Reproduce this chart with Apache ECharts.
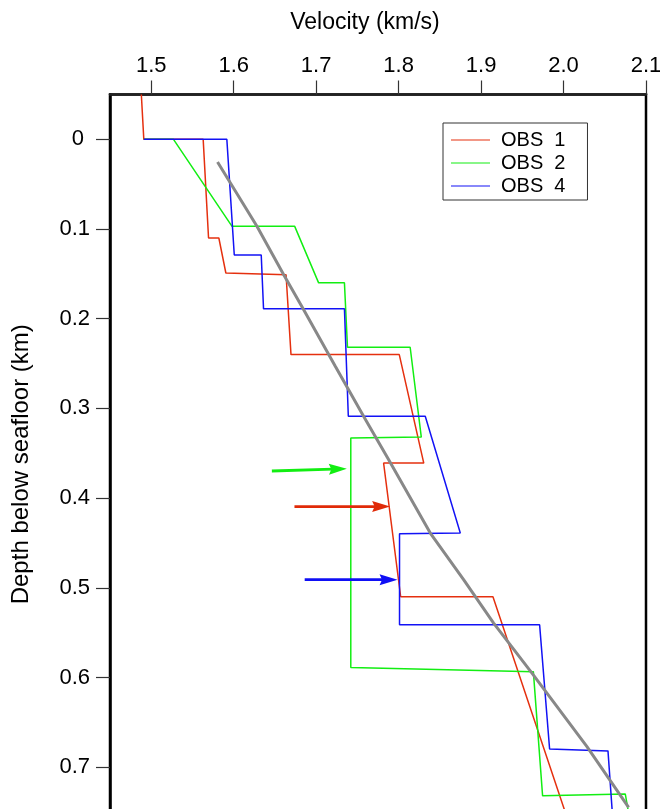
<!DOCTYPE html>
<html>
<head>
<meta charset="utf-8">
<script src="https://cdn.jsdelivr.net/npm/echarts@6/dist/echarts.min.js"></script>
<style>
  html, body { margin: 0; padding: 0; background: #fff; }
  #chart { width: 660px; height: 809px; }
</style>
</head>
<body>
<div id="chart"></div>
<script>
// Axis ticks
const velocityTicks = [1.5, 1.6, 1.7, 1.8, 1.9, 2.0, 2.1];
const depthTicks = [0, 0.1, 0.2, 0.3, 0.4, 0.5, 0.6, 0.7];

const seriesNames = ['OBS  1', 'OBS  2', 'OBS  4'];

// Velocity profiles: [velocity (km/s), depth below seafloor (km)]
const obs1 = [
  [1.488, -0.05], [1.491, 0.0], [1.563, 0.0], [1.5695, 0.110], [1.582, 0.110],
  [1.5905, 0.149], [1.6635, 0.151], [1.6695, 0.240], [1.8008, 0.240],
  [1.8305, 0.361], [1.7818, 0.361], [1.8025, 0.510], [1.9144, 0.510], [2.002, 0.750]
];
const obs2 = [
  [1.491, 0.0], [1.527, 0.0], [1.598, 0.097], [1.674, 0.097], [1.703, 0.160],
  [1.7343, 0.160], [1.738, 0.2318], [1.814, 0.2318], [1.8275, 0.332], [1.742, 0.333],
  [1.742, 0.589], [1.9634, 0.5935], [1.9746, 0.732], [2.0749, 0.730], [2.0787, 0.750]
];
const obs4 = [
  [1.491, 0.0], [1.5917, 0.0], [1.6007, 0.129], [1.6334, 0.129], [1.6362, 0.189],
  [1.7343, 0.189], [1.739, 0.3088], [1.8323, 0.3088], [1.8748, 0.439], [1.8011, 0.4397],
  [1.8011, 0.5413], [1.971, 0.5413], [1.9831, 0.6797], [2.0539, 0.6819], [2.0591, 0.750]
];
// Smoothed velocity-depth trend
const trend = [
  [1.5804, 0.0253], [1.6282, 0.0968], [1.6605, 0.1507], [1.6847, 0.1897],
  [1.7232, 0.2530], [1.7575, 0.3088], [1.7878, 0.3570], [1.8384, 0.4390],
  [1.8788, 0.4910], [1.9152, 0.5394], [1.9617, 0.5952], [2.0284, 0.6771],
  [2.0789, 0.7448]
];
// Arrows: [velocity start, depth start, velocity end, depth end]
const arrowObs2 = [1.6463, 0.3698, 1.7372, 0.3672];
const arrowObs1 = [1.6737, 0.4095, 1.7897, 0.4095];
const arrowObs4 = [1.6861, 0.4910, 1.7987, 0.4910];

const FONT = "'Liberation Sans', Arial, Helvetica, sans-serif";
const RED = '#e5300f';
const GREEN = '#12ee12';
const BLUE = '#1212f5';
const LEGEND_ICON = 'path://M0,0 L40,0 L40,1 L0,1 Z';

function renderArrow(params, api) {
  const a = api.coord([api.value(0), api.value(1)]);
  const b = api.coord([api.value(2), api.value(3)]);
  const dx = b[0] - a[0], dy = b[1] - a[1];
  const len = Math.hypot(dx, dy);
  const ux = dx / len, uy = dy / len;
  const headLen = 18, headHalf = 5.5, notch = 2.5;
  const bx = b[0] - ux * headLen, by = b[1] - uy * headLen;
  const color = api.visual('color');
  return {
    type: 'group',
    children: [
      {
        type: 'line',
        shape: { x1: a[0], y1: a[1], x2: bx + ux * 4, y2: by + uy * 4 },
        style: { stroke: color, lineWidth: 2.8 }
      },
      {
        type: 'polygon',
        shape: {
          points: [
            [b[0], b[1]],
            [bx - uy * headHalf, by + ux * headHalf],
            [bx + ux * notch, by + uy * notch],
            [bx + uy * headHalf, by - ux * headHalf]
          ]
        },
        style: { fill: color }
      }
    ]
  };
}

const chart = echarts.init(document.getElementById('chart'), null, { renderer: 'canvas' });

const profileLine = (name, data, color) => ({
  name: name,
  type: 'line',
  data: data,
  symbol: 'none',
  showSymbol: false,
  legendIcon: LEGEND_ICON,
  lineStyle: { color: color, width: 1.5 },
  itemStyle: { color: color },
  silent: true,
  z: 3
});

chart.setOption({
  animation: false,
  backgroundColor: '#ffffff',
  textStyle: { fontFamily: FONT },
  grid: {
    left: 110,
    right: 14,
    top: 94.5,
    bottom: -3,
    outerBoundsMode: 'none',
    containLabel: false,
    show: true,
    borderColor: '#000',
    borderWidth: 2.5,
    backgroundColor: 'transparent'
  },
  legend: {
    data: seriesNames.map(n => ({ name: n, icon: LEGEND_ICON })),
    orient: 'vertical',
    left: 443,
    top: 123,
    padding: [7, 22, 4, 8],
    itemGap: 3,
    itemWidth: 39,
    itemHeight: 1.3,
    borderColor: '#333',
    borderWidth: 1,
    backgroundColor: '#fff',
    textStyle: {
      fontFamily: FONT,
      fontSize: 20,
      color: '#000',
      lineHeight: 20,
      padding: [0, 0, 0, 6]
    },
    selectedMode: false
  },
  xAxis: {
    type: 'value',
    position: 'top',
    min: 1.45,
    max: 2.1,
    name: 'Velocity (km/s)',
    nameLocation: 'middle',
    nameGap: 60,
    nameTextStyle: {
      fontFamily: FONT,
      fontSize: 23,
      color: '#000',
      padding: [0, 26, 0, 0]
    },
    axisLine: { show: true, onZero: false, lineStyle: { color: '#222', width: 2.5 } },
    axisTick: {
      show: true,
      inside: false,
      length: 14,
      customValues: velocityTicks,
      lineStyle: { color: '#333', width: 1.2 }
    },
    axisLabel: {
      show: true,
      margin: 18,
      customValues: velocityTicks,
      fontFamily: FONT,
      fontSize: 22,
      color: '#000',
      formatter: v => v.toFixed(1)
    },
    splitLine: { show: false }
  },
  yAxis: {
    type: 'value',
    inverse: true,
    min: -0.05,
    max: 0.75,
    name: 'Depth below seafloor (km)',
    nameLocation: 'middle',
    nameGap: 77,
    nameTextStyle: {
      fontFamily: FONT,
      fontSize: 24,
      color: '#000',
      padding: [0, 22, 0, 0]
    },
    axisLine: { show: true, onZero: false, lineStyle: { color: '#000', width: 2.5 } },
    axisTick: {
      show: true,
      inside: false,
      length: 14,
      customValues: depthTicks,
      lineStyle: { color: '#333', width: 1.2 }
    },
    axisLabel: {
      show: true,
      margin: 20,
      customValues: depthTicks,
      fontFamily: FONT,
      fontSize: 22,
      color: '#000',
      formatter: v => (v === 0 ? '{zero|0}' : v.toFixed(1)),
      rich: {
        zero: { fontFamily: FONT, fontSize: 22, color: '#000', padding: [0, 6, 0, 0] }
      }
    },
    splitLine: { show: false }
  },
  series: [
    profileLine(seriesNames[0], obs1, RED),
    profileLine(seriesNames[1], obs2, GREEN),
    profileLine(seriesNames[2], obs4, BLUE),
    {
      name: 'trend',
      type: 'line',
      data: trend,
      symbol: 'none',
      showSymbol: false,
      lineStyle: { color: '#888', width: 3 },
      silent: true,
      z: 4
    },
    {
      type: 'custom',
      renderItem: renderArrow,
      encode: { x: [0, 2], y: [1, 3] },
      data: [
        { value: arrowObs2, itemStyle: { color: GREEN } },
        { value: arrowObs1, itemStyle: { color: '#e02a08' } },
        { value: arrowObs4, itemStyle: { color: '#0f0ff5' } }
      ],
      silent: true,
      z: 5
    }
  ]
});
</script>
</body>
</html>
